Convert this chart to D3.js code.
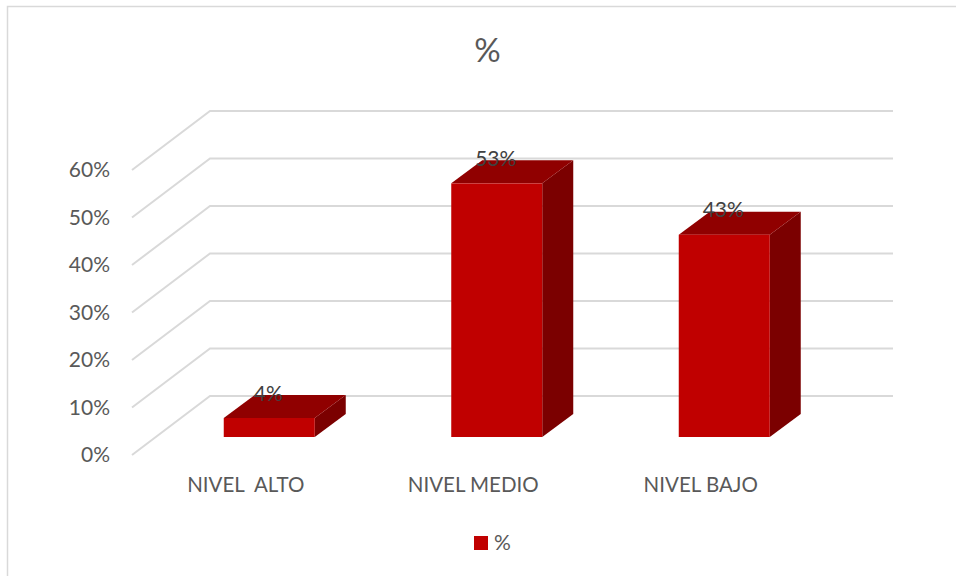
<!DOCTYPE html>
<html><head><meta charset="utf-8">
<script src="https://cdnjs.cloudflare.com/ajax/libs/d3/7.8.5/d3.min.js"></script>
<style>html,body{margin:0;padding:0;background:#fff}svg{display:block}text{font-family:Lato,"Open Sans",sans-serif}</style>
</head><body><svg id="c" width="956" height="576"></svg>
<script>
const categories = ["NIVEL  ALTO", "NIVEL MEDIO", "NIVEL BAJO"];
const values = [4.0, 53.4, 42.6];
const yTicks = [0, 10, 20, 30, 40, 50, 60];
const seriesName = "%";
const chartTitle = "%";

const svg = d3.select("#c");
const dx = 31, dy = -23;           // bar depth
const wallDx = 78, wallDy = -59;   // floor depth

const x = d3.scaleBand().domain(categories).range([155.5, 838]).paddingInner(0.6).paddingOuter(0.3);
const yBar = d3.scaleLinear().domain([0, 60]).range([437, 152]);
const yFront = d3.scaleLinear().domain([0, 60]).range([455, 170]);

// frame
svg.append("path").attr("d", "M7.5,576V6.5H956").attr("fill", "none").attr("stroke", "#d9d9d9").attr("stroke-width", 1.5);

// gridlines
const frontX = 132, wallX = frontX + wallDx, rightX = 893;
svg.append("g").selectAll("path").data(yTicks).join("path")
  .attr("d", d => { const y = yFront(d); return `M${frontX},${y}L${wallX},${y + wallDy}H${rightX}`; })
  .attr("fill", "none").attr("stroke", "#d9d9d9").attr("stroke-width", 2);

// axis
const axis = d3.axisLeft(yFront).tickValues(yTicks).tickSize(0).tickPadding(0).tickFormat(d => d + "%");
const gA = svg.append("g").attr("transform", "translate(110,0)").call(axis);
gA.select(".domain").remove();
gA.selectAll("text").attr("font-size", 21).attr("fill", "#595959").style("font-family", "Lato,'Open Sans',sans-serif");

// bars
const bars = svg.append("g").selectAll("g").data(categories.map((c, i) => ({ c, v: values[i] }))).join("g");
const bw = x.bandwidth();
bars.append("path").attr("fill", "#7b0000").attr("d", d => {
  const r = x(d.c) + bw, t = yBar(d.v), b = yBar(0);
  return `M${r},${t}L${r + dx},${t + dy}V${b + dy}L${r},${b}Z`;
});
bars.append("path").attr("fill", "#900000").attr("d", d => {
  const l = x(d.c), t = yBar(d.v);
  return `M${l},${t}L${l + dx},${t + dy}H${l + bw + dx}L${l + bw},${t}Z`;
});
bars.append("rect").attr("fill", "#c00000")
  .attr("x", d => x(d.c)).attr("width", bw)
  .attr("y", d => yBar(d.v)).attr("height", d => yBar(0) - yBar(d.v));
bars.append("text").text(d => Math.round(d.v) + "%")
  .attr("x", d => x(d.c) + bw / 2 - 1).attr("y", d => yBar(d.v) + dy - 3)
  .attr("text-anchor", "middle").attr("dominant-baseline", "central")
  .attr("font-size", 21).attr("fill", "#404040");

// category labels
svg.append("g").selectAll("text").data(categories).join("text").text(d => d)
  .attr("x", d => x(d) + bw / 2 - 23.5).attr("y", 484)
  .attr("text-anchor", "middle").attr("dominant-baseline", "central")
  .attr("xml:space", "preserve").style("white-space", "pre")
  .attr("font-size", 20.5).attr("fill", "#595959");

// title
svg.append("text").text(chartTitle).attr("x", 487.5).attr("y", 49)
  .attr("text-anchor", "middle").attr("dominant-baseline", "central")
  .attr("font-size", 33).attr("fill", "#595959");

// legend
svg.append("rect").attr("x", 474).attr("y", 536).attr("width", 14).attr("height", 14).attr("fill", "#c00000");
svg.append("text").text(seriesName).attr("x", 494).attr("y", 541)
  .attr("dominant-baseline", "central").attr("font-size", 21).attr("fill", "#595959");
</script></body></html>
